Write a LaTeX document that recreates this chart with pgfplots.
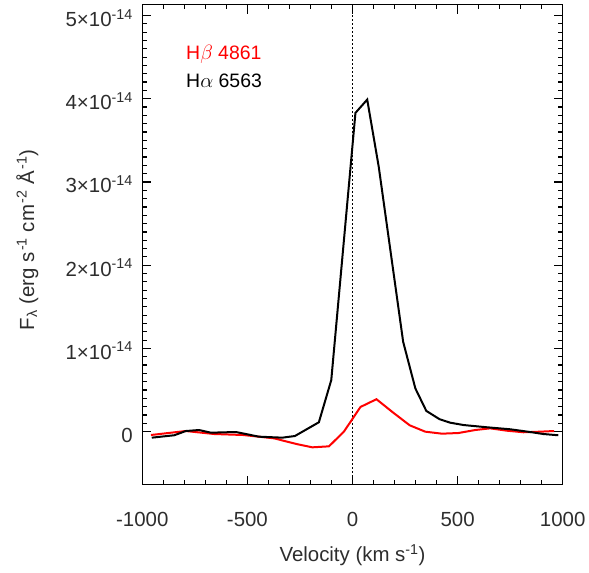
\documentclass[border=0pt]{standalone}
\usepackage{pgfplots}
\pgfplotsset{compat=1.18}
\usepackage{fontspec}
\setmainfont{Liberation Sans}
\definecolor{hbred}{RGB}{255,0,0}
\definecolor{txt}{RGB}{45,45,45}
\begin{document}
\begin{tikzpicture}
\useasboundingbox (-142.3bp,-88.3bp) rectangle (446.7bp,484.7bp);
\begin{axis}[
  at={(0,0)}, anchor=south west,
  scale only axis, width=420.4bp, height=480bp,
  xmin=-1000, xmax=1000, ymin=-0.637, ymax=5.13,
  axis line style={line width=1.4bp, black},
  tick style={line width=1.2bp, black},
  tick align=inside,
  major tick length=9bp, minor tick length=4.5bp,
  xtick={-1000,-500,0,500,1000},
  xticklabels={-1000,-500,0,500,1000},
  minor x tick num=4,
  ytick={0,1,2,3,4,5},
  yticklabels={0,1×10\textsuperscript{-14},2×10\textsuperscript{-14},3×10\textsuperscript{-14},4×10\textsuperscript{-14},5×10\textsuperscript{-14}},
  minor y tick num=9,
  tick label style={font=\fontsize{20.5}{24}\selectfont, text=txt, inner sep=0pt},
  xticklabel style={anchor=base, yshift=-42bp},
  yticklabel style={anchor=base east, xshift=-9.3bp, yshift=-11bp},
  label style={font=\fontsize{20.5}{24}\selectfont, text=txt, inner sep=0pt},
  xlabel={Velocity (km s\textsuperscript{-1})},
  xlabel style={at={(axis description cs:0.5,-0.1604)}, anchor=base},
  ylabel={F\textsubscript{λ} (erg s\kern1.5bp\textsuperscript{-1} cm\kern1.5bp\textsuperscript{-2} Å\kern1.5bp\textsuperscript{-1})},
  ylabel style={at={(axis description cs:-0.2576,0.51)}, anchor=base},
  clip=true,
]
\addplot[black, line width=1.4bp, dash pattern=on 1.6bp off 2.4bp] coordinates {(0,-0.637) (0,5.13)};
\addplot[hbred, line width=2bp] coordinates {
(-959,-0.04) (-793,0.008) (-658,-0.028) (-520,-0.04) (-373,-0.08) (-267,-0.148)
(-191,-0.188) (-112,-0.176) (-41,0.0) (38,0.297) (114,0.39) (193,0.23) (272,0.077)
(346,0.0) (426,-0.024) (504,-0.016) (584,0.02) (655,0.04) (734,0.012)
(813,-0.007) (892,0.0) (959,0.008)
};
\addplot[black, line width=2bp] coordinates {
(-955,-0.072) (-848,-0.043) (-793,0.008) (-730,0.02) (-674,-0.012) (-555,-0.004)
(-445,-0.06) (-334,-0.072) (-274,-0.052) (-160,0.113) (-101,0.62) (14,3.83)
(70,3.99) (125,3.18) (241,1.08) (299,0.52) (351,0.25) (414,0.15) (465,0.108)
(528,0.08) (639,0.053) (750,0.029) (845,-0.004) (908,-0.028) (979,-0.043)
};
\node[anchor=base west, inner sep=0pt, text=hbred, font=\fontsize{19.5}{23}\selectfont] at (axis description cs:0.104,0.886) {H$\beta$ 4861};
\node[anchor=base west, inner sep=0pt, text=black, font=\fontsize{19.5}{23}\selectfont] at (axis description cs:0.104,0.828) {H$\alpha$ 6563};
\end{axis}
\end{tikzpicture}
\end{document}
